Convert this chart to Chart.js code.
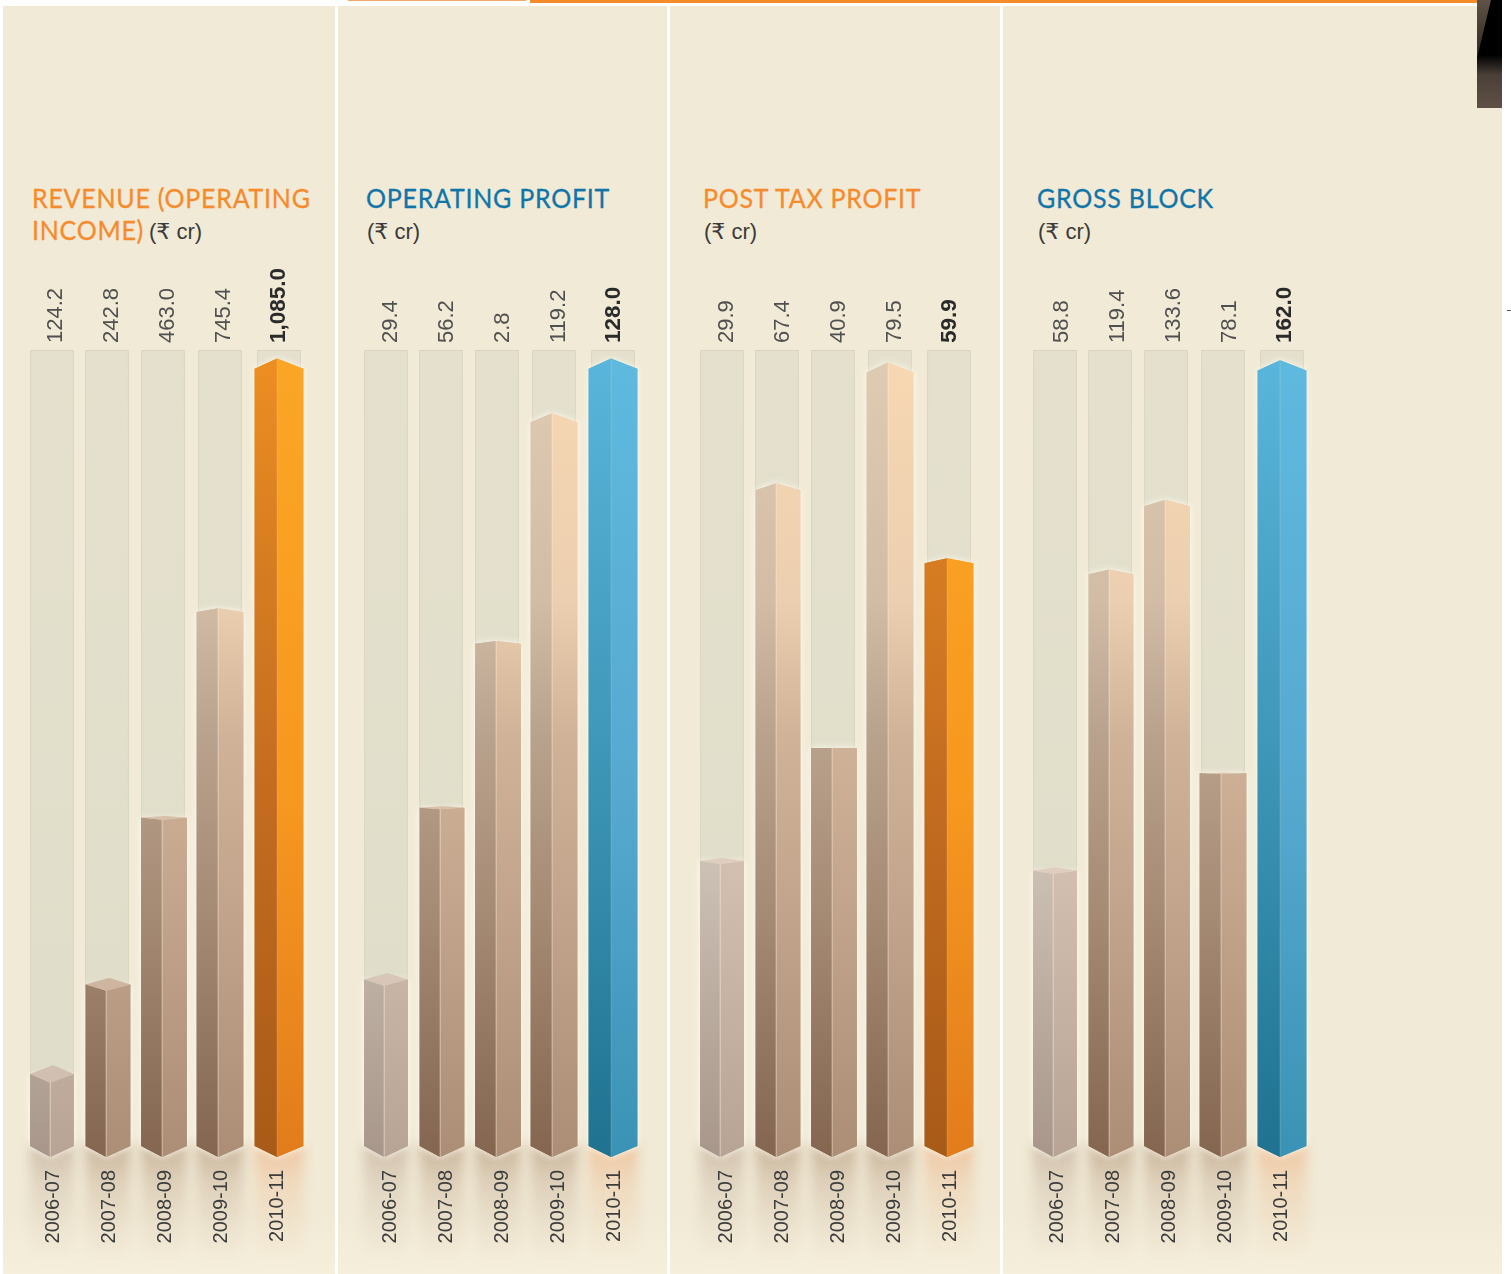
<!DOCTYPE html>
<html>
<head>
<meta charset="utf-8">
<title>Financial charts</title>
<script src="https://cdn.jsdelivr.net/npm/chart.js@4"></script>
<style>
html, body { margin: 0; padding: 0; background: #fff; }
body { position: relative; width: 1511px; height: 1274px; overflow: hidden; }
.panel { position: absolute; top: 6px; height: 1268px; background: linear-gradient(#f1ead6 0, #f1ead6 1210px, #f6efdc 1268px); }
canvas { position: absolute; top: 250px; }
.title { position: absolute; font: 27.5px/32px Lato, "Liberation Sans", sans-serif; letter-spacing: .8px; white-space: nowrap; transform: scaleX(.91); transform-origin: 0 0; -webkit-text-stroke: .3px currentColor; }
.unit { position: absolute; top: 219px; font: 22px/26px "Liberation Sans", "DejaVu Sans", sans-serif; color: #3a3a3a; white-space: nowrap; }
#stripe { position: absolute; left: 530px; top: 0; width: 947px; height: 3px; background: #f68b2c; }
#tab { position: absolute; left: 348px; top: -2px; width: 176px; height: 2px; background: #fff; border: 1px solid #f3a868; border-top: 0; }
#photo { position: absolute; left: 1477px; top: 0; width: 25px; height: 108px; background: linear-gradient(#000 0, #000 55px, #4a4038 75px, #5f5046 108px); }
#photo i { position: absolute; left: 0; top: 0; width: 14px; height: 58px; background: linear-gradient(#5f5246, #30281f); clip-path: polygon(0 0, 100% 0, 0 100%); }
#nick { position: absolute; left: 1507px; top: 310px; width: 4px; height: 1px; background: #555; }
</style>
</head>
<body>
<div id="stripe"></div>
<div id="tab"></div>
<div class="panel" style="left:3px;width:332px"></div>
<div class="panel" style="left:338px;width:329px"></div>
<div class="panel" style="left:670px;width:330px"></div>
<div class="panel" style="left:1003px;width:499px"></div>
<div id="photo"><i></i></div>
<div id="nick"></div>
<div class="title" style="left:32px;top:182px;color:#f68b2c">REVENUE (OPERATING</div>
<div class="title" style="left:32px;top:214px;color:#f68b2c">INCOME)</div>
<div class="unit" style="left:149px">(₹ cr)</div>
<div class="title" style="left:366px;top:182px;color:#0f75a8">OPERATING PROFIT</div>
<div class="unit" style="left:367px">(₹ cr)</div>
<div class="title" style="left:703px;top:182px;color:#f68b2c">POST TAX PROFIT</div>
<div class="unit" style="left:704px">(₹ cr)</div>
<div class="title" style="left:1037px;top:182px;color:#0f75a8">GROSS BLOCK</div>
<div class="unit" style="left:1038px">(₹ cr)</div>

<script>
const years = ['2006-07', '2007-08', '2008-09', '2009-10', '2010-11'];

const revenue = [124.2, 242.8, 463.0, 745.4, 1085.0];
const operatingProfit = [29.4, 56.2, 82.7, 119.2, 128.0]; // printed label says 2.8, the bar stands near 82.7
const postTaxProfit = [29.9, 67.4, 40.9, 79.5, 59.9];
const grossBlock = [58.8, 119.4, 133.6, 78.1, 162.0];

const revenueLabels = ['124.2', '242.8', '463.0', '745.4', '1,085.0'];
const operatingLabels = ['29.4', '56.2', '2.8', '119.2', '128.0'];
const postTaxLabels = ['29.9', '67.4', '40.9', '79.5', '59.9'];
const grossLabels = ['58.8', '119.4', '133.6', '78.1', '162.0'];

// layout of the four charts
const panels = [
    { values: revenue, labels: revenueLabels, left: 24, yMax: 1096, accent: 'orange', topShift: 30, bottomShift: 1 },
    { values: operatingProfit, labels: operatingLabels, left: 358, yMax: 129.3, accent: 'blue', topShift: 31, bottomShift: 4 },
    { values: postTaxProfit, labels: postTaxLabels, left: 694, yMax: 80.7, accent: 'orange', topShift: 31, bottomShift: 4 },
    { values: grossBlock, labels: grossLabels, left: 1027, yMax: 164, accent: 'blue', topShift: 33, bottomShift: 2 }
];

// colour stops run from the top of the plot (0) to the base line (1)
const faces = {
    plain: {
        left: [[0, '#e0cbb3'], [.31, '#d2bca6'], [.48, '#b9a28d'], [.68, '#a78c76'], [1, '#846650']],
        right: [[0, '#f8d8b2'], [.31, '#eccfb0'], [.48, '#d0b298'], [.68, '#c2a58c'], [1, '#ac8e76']]
    },
    first: {
        left: [[0, '#d8ccc0'], [.6, '#d0c4b8'], [1, '#a8968a']],
        right: [[0, '#e0ccbc'], [.6, '#d6c2b2'], [1, '#b8a494']]
    },
    orange: {
        left: [[0, '#ef8f22'], [.26, '#d67d22'], [.55, '#c36c20'], [1, '#a85a18']],
        right: [[0, '#fba626'], [.55, '#f7981f'], [1, '#e27c1c']]
    },
    blue: {
        left: [[0, '#5ab6dc'], [.55, '#3b93b4'], [1, '#1f7290']],
        right: [[0, '#5fbae0'], [.55, '#56a8cf'], [1, '#3a93b5']]
    }
};

const grow = [0, .5, 1, 1.5, 2.5];
const barNudge = [0, 0, 0, 0, 3];
const trackNudge = [0, -1, -1, 0, 3];
const horizon = 500; // canvas y where the bar tops look flat
const pitch = .027;

function gradient(ctx, area, stops) {
    const g = ctx.createLinearGradient(0, area.top, 0, area.bottom);
    stops.forEach(s => g.addColorStop(s[0], s[1]));
    return g;
}

function poly(ctx, pts, fill) {
    ctx.beginPath();
    pts.forEach((p, i) => i ? ctx.lineTo(p[0], p[1]) : ctx.moveTo(p[0], p[1]));
    ctx.closePath();
    ctx.fillStyle = fill;
    ctx.fill();
}

function drawTracks(chart) {
    const ctx = chart.ctx, area = chart.chartArea;
    chart.getDatasetMeta(0).data.forEach((el, i) => {
        const x = el.x - el.width / 2 + trackNudge[i];
        const g = ctx.createLinearGradient(0, area.top, 0, area.bottom);
        g.addColorStop(0, '#e4e0cd');
        g.addColorStop(1, '#dfddc9');
        ctx.fillStyle = g;
        ctx.fillRect(x, area.top, el.width, area.bottom - area.top - 12);
        ctx.strokeStyle = '#d9d5c1';
        ctx.lineWidth = 1;
        ctx.strokeRect(x + .5, area.top + .5, el.width - 1, area.bottom - area.top - 13);
    });
}

function drawBar(chart, el, i, accent) {
    const ctx = chart.ctx, area = chart.chartArea;
    const x0 = el.x + barNudge[i] - el.width / 2 - grow[i];
    const x1 = el.x + barNudge[i] + el.width / 2 + grow[i];
    const ridge = x0 + (x1 - x0) * .46;
    const side = el.y + Math.abs(el.y - horizon) * pitch;
    const k = (side - horizon) * pitch;
    const foot = el.base - 11;
    const tone = i === 4 ? faces[accent] : (i === 0 ? faces.first : faces.plain);
    const left = gradient(ctx, area, tone.left);
    const right = gradient(ctx, area, tone.right);
    const leftFace = [[x0, side], [ridge, side + k], [ridge, el.base], [x0, foot]];
    const rightFace = [[ridge, side + k], [x1, side], [x1, foot], [ridge, el.base]];

    // pale halo round the prism
    ctx.save();
    ctx.shadowColor = 'rgba(255,253,243,.95)';
    ctx.shadowBlur = 7;
    poly(ctx, leftFace, left);
    poly(ctx, rightFace, right);
    ctx.restore();

    poly(ctx, leftFace, left);
    poly(ctx, rightFace, right);
    if (k > 0) {
        const cap = [[x0, side], [(x0 + x1) / 2 + 1, side - k], [x1, side], [ridge, side + k]];
        poly(ctx, cap, right);
        poly(ctx, cap, 'rgba(255,244,234,.28)');
    }

    // thin light ridge
    ctx.beginPath();
    ctx.moveTo(ridge, side + k);
    ctx.lineTo(ridge, el.base);
    ctx.strokeStyle = i === 4 ? 'rgba(255,230,190,.12)' : 'rgba(255,238,220,.35)';
    ctx.lineWidth = 1.5;
    ctx.stroke();
}

const prismPlugin = {
    id: 'prism',
    beforeDraw(chart, args, opts) {
        // warm reflection falling away below each bar
        const ctx = chart.ctx;
        ctx.save();
        ctx.filter = 'blur(6px)';
        chart.getDatasetMeta(0).data.forEach((el, i) => {
            const x = el.x + barNudge[i] - el.width / 2 - grow[i];
            const g = ctx.createLinearGradient(0, el.base - 8, 0, el.base + 105);
            const rgb = i === 4 ? '236,165,110' : (i === 0 ? '175,150,130' : '165,130,100');
            g.addColorStop(0, 'rgba(' + rgb + ',.48)');
            g.addColorStop(.3, 'rgba(' + rgb + ',.24)');
            g.addColorStop(.7, 'rgba(' + rgb + ',.08)');
            g.addColorStop(1, 'rgba(' + rgb + ',0)');
            ctx.fillStyle = g;
            ctx.fillRect(x, el.base - 14, el.width + grow[i] * 2, 119);
        });
        ctx.restore();
    },
    afterDatasetsDraw(chart, args, opts) {
        drawTracks(chart);
        chart.getDatasetMeta(0).data.forEach((el, i) => drawBar(chart, el, i, opts.accent));
    }
};

function tickFont(size, boldSize) {
    return ctx => ({
        family: '"Liberation Sans", sans-serif',
        size: boldSize && ctx.index === 4 ? boldSize : size,
        weight: boldSize && ctx.index === 4 ? 'bold' : 'normal'
    });
}

function buildChart(panel) {
    const canvas = document.createElement('canvas');
    canvas.width = 298;
    canvas.height = 1024;
    canvas.style.left = (panel.left - 8) + 'px';
    document.body.appendChild(canvas);

    return new Chart(canvas.getContext('2d'), {
        type: 'bar',
        data: {
            labels: years,
            datasets: [{
                data: panel.values,
                backgroundColor: 'transparent',
                borderWidth: 0,
                barPercentage: 44 / 56.4,
                categoryPercentage: 1
            }]
        },
        options: {
            responsive: false,
            animation: false,
            layout: { padding: { left: 8, right: 8, top: 0, bottom: 0 } },
            plugins: {
                legend: { display: false },
                tooltip: { enabled: false },
                prism: { accent: panel.accent }
            },
            scales: {
                x: {
                    position: 'bottom',
                    offset: true,
                    grid: { display: false, drawTicks: false },
                    border: { display: false },
                    afterFit: s => { s.height = 117; },
                    ticks: {
                        autoSkip: false,
                        minRotation: 90,
                        maxRotation: 90,
                        padding: 13,
                        labelOffset: panel.bottomShift,
                        color: '#3c3c3c',
                        font: tickFont(20)
                    }
                },
                x2: {
                    type: 'category',
                    labels: panel.labels,
                    position: 'top',
                    offset: true,
                    grid: { display: false, drawTicks: false },
                    border: { display: false },
                    afterFit: s => { s.height = 100; },
                    ticks: {
                        autoSkip: false,
                        minRotation: 90,
                        maxRotation: 90,
                        padding: 7,
                        labelOffset: panel.topShift,
                        color: ctx => ctx.index === 4 ? '#2a2a2a' : '#505050',
                        font: tickFont(22, 22.5)
                    }
                },
                y: { display: false, min: 0, max: panel.yMax }
            }
        },
        plugins: [prismPlugin]
    });
}

panels.forEach(buildChart);
</script>
</body>
</html>
